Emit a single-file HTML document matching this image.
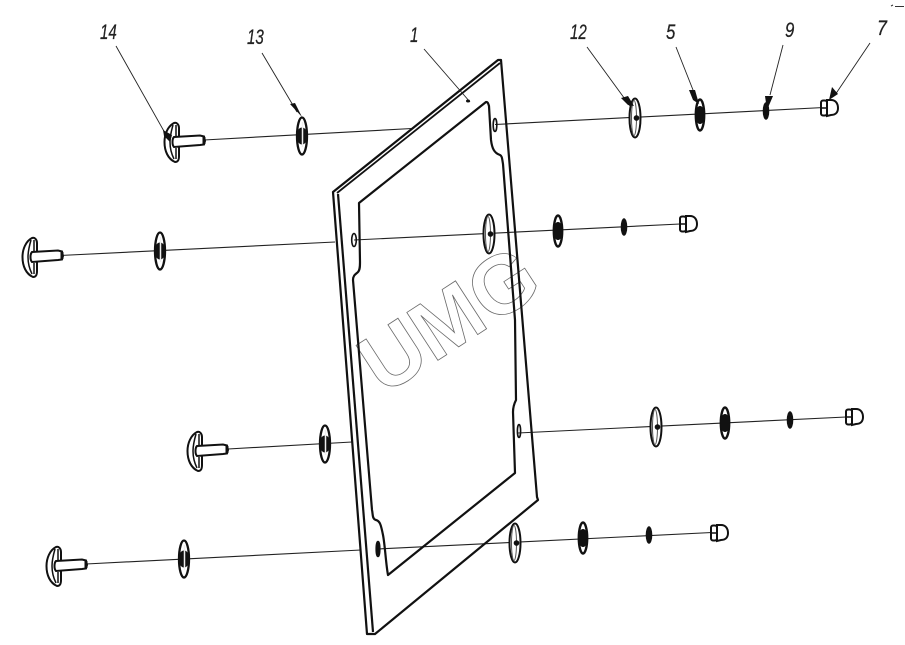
<!DOCTYPE html>
<html><head><meta charset="utf-8"><style>
html,body{margin:0;padding:0;background:#fff;width:905px;height:645px;overflow:hidden}
svg{display:block}
text.l{font-family:"Liberation Sans",sans-serif;font-style:italic;font-size:21px;fill:#222;stroke:#222;stroke-width:.25}
</style></head><body>
<svg width="905" height="645" viewBox="0 0 905 645" xmlns="http://www.w3.org/2000/svg">
<defs>
<g id="bolt" fill="#fff" stroke="#111" stroke-width="2">
<path d="M1,-19 C-5,-16 -8.500,-8 -8.500,0 C-8.500,9 -5,17 2,20 C5,20 6,18 6,14 L6,-14 C6,-17 4,-20 1,-19Z"/>
<path d="M0,-17 C-2,-10 -3,-5 -3,0 C-3,6 -2,11 1,17 M3,-17 L3,-6 M3,17 L3,6" stroke-width="1.500" fill="none"/>
<path d="M1,-5 L27,-6.500 L31,-5.500 L32,-1 L31,2.500 L27,3 L1,5 C-1,3 -1,-3 1,-5Z"/>
<path d="M30,-5.500 L30,2.500 L32,1.500 L32,-4.500Z" fill="#111" stroke-width="1"/>
</g>
<g id="wA"><ellipse rx="5" ry="18.500" fill="#fff" stroke="#111" stroke-width="2.300"/><ellipse rx="5.500" ry="8.500" fill="#111"/><path d="M0.500,-14 L0.500,11" stroke="#eee" stroke-width="1.500"/></g>
<g id="wB"><ellipse rx="5.500" ry="19.500" fill="#fff" stroke="#111" stroke-width="2"/><ellipse cx="-1" rx="2.500" ry="17.500" fill="none" stroke="#555" stroke-width="1"/><circle cx="1.500" r="2.800" fill="#111"/></g>
<g id="wC"><ellipse rx="4.200" ry="15.500" fill="#fff" stroke="#111" stroke-width="2.400"/><ellipse rx="4.800" ry="9" fill="#111"/></g>
<ellipse id="wD" rx="3.300" ry="8.800" fill="#111"/>
<g id="nut" fill="#fff" stroke="#111" stroke-width="2">
<path d="M6,-8 L10,-8 C15,-8 17,-4 17,0 C17,4 15,7 10,7 L6,8Z"/>
<rect x="0" y="-7.500" width="6" height="15" rx="2"/>
<path d="M0,0 L6,0 M6,-8 L6,8" stroke-width="1.600"/>
</g>
</defs>

<!-- watermark -->
<text transform="translate(383,396) rotate(-33)" font-family="Liberation Sans, sans-serif" font-weight="bold" font-size="83" fill="#fff" stroke="#6a6a6a" stroke-width="0.8">UMG</text>

<!-- axis lines -->
<g stroke="#222" stroke-width="1.100" fill="none">
<path d="M204,140 L412,128.500"/>
<path d="M495,124.500 L824,107.500"/>
<path d="M60,255.500 L335,242"/>
<path d="M354,240 L680,224"/>
<path d="M228,449 L352,442"/>
<path d="M518,433 L846,417"/>
<path d="M86,564 L361,550"/>
<path d="M378,549 L712,532.500"/>
</g>

<!-- frame -->
<g fill="none" stroke="#111" stroke-width="2.200" stroke-linejoin="round">
<path d="M333,192 L498,60 L501,60 L537,497 L538,500 L375,634 L367,634 Z"/>
<path d="M338,194 L373,632"/>
<path d="M337,193 L500,63" stroke-width="1.800"/>
<path d="M359,203 L486,102 C488,102 488,103 489,106 L491,140 C492,148 494,153 500,155 C502,156 502,158 503,164 L515,320 L516,400 C514,404 513,408 513,412 L515,473 L388,575 C386,565 385,545 383,535 C381,525 380,521 376,520 C372,519 373,514 372,510 L353,280 C353,275 356,274 358,272 C360,270 360,266 360,262 L359,203Z"/>
</g>
<g fill="none" stroke="#111" stroke-width="1.600">
<ellipse cx="354" cy="240" rx="2.300" ry="6.500"/>
<ellipse cx="495" cy="125" rx="1.800" ry="6.500"/>
<ellipse cx="519" cy="431" rx="1.600" ry="6.500"/>
<ellipse cx="378" cy="549" rx="1.800" ry="7.500" fill="#111"/>
</g>

<!-- row 1 -->
<use href="#bolt" x="173" y="142"/>
<use href="#wA" x="302" y="136"/>
<use href="#wB" x="635" y="118"/>
<use href="#wC" x="700" y="115"/>
<use href="#wD" x="766" y="111"/>
<use href="#nut" x="821" y="108"/>
<!-- row 2 -->
<use href="#bolt" x="31" y="257"/>
<use href="#wA" x="160" y="251"/>
<use href="#wB" x="489" y="234"/>
<use href="#wC" x="558" y="231"/>
<use href="#wD" x="624" y="227"/>
<use href="#nut" x="680" y="224"/>
<!-- row 3 -->
<use href="#bolt" x="196" y="451"/>
<use href="#wA" x="325" y="444"/>
<use href="#wB" x="656" y="427"/>
<use href="#wC" x="725" y="423"/>
<use href="#wD" x="790" y="420"/>
<use href="#nut" x="846" y="417"/>
<!-- row 4 -->
<use href="#bolt" x="55" y="566"/>
<use href="#wA" x="184" y="559"/>
<use href="#wB" x="515" y="543"/>
<use href="#wC" x="583" y="538"/>
<use href="#wD" x="649" y="535"/>
<use href="#nut" x="711" y="533"/>

<!-- leaders -->
<g stroke="#222" stroke-width="0.900" fill="none">
<path d="M116,46 L165,133"/>
<path d="M262,53 L297,112"/>
<path d="M424,49 L470,102"/>
<path d="M587,47 L630,106"/>
<path d="M676,47 L695,95"/>
<path d="M783,45 L770,95"/>
<path d="M870,43 L835,95"/>
</g>
<g fill="#111">
<path d="M163,130 L172,135 L170,142 L164,136Z"/>
<path d="M290,104 L295,103 L302,117Z"/>
<ellipse cx="468" cy="101" rx="2" ry="1.500"/>
<path d="M621,98 L628,96 L634,106 L628,105Z"/>
<path d="M689,90 L695,90 L699,104 L693,100Z"/>
<path d="M765,96 L773,96 L767,110Z"/>
<path d="M832,87 L838,94 L829,100Z"/>
</g>

<!-- labels -->
<text class="l" transform="translate(100,39) scale(.72,1)">14</text>
<text class="l" transform="translate(247,44) scale(.72,1)">13</text>
<text class="l" transform="translate(410,42) scale(.72,1)">1</text>
<text class="l" transform="translate(570,39) scale(.72,1)">12</text>
<text class="l" transform="translate(666,39) scale(.8,1)">5</text>
<text class="l" transform="translate(785,37) scale(.8,1)">9</text>
<text class="l" transform="translate(877,35) scale(.85,1)">7</text>
<path d="M891,6 L893,5 M895,6.500 L904,6.500" stroke="#333" stroke-width="1"/>
</svg>
</body></html>
